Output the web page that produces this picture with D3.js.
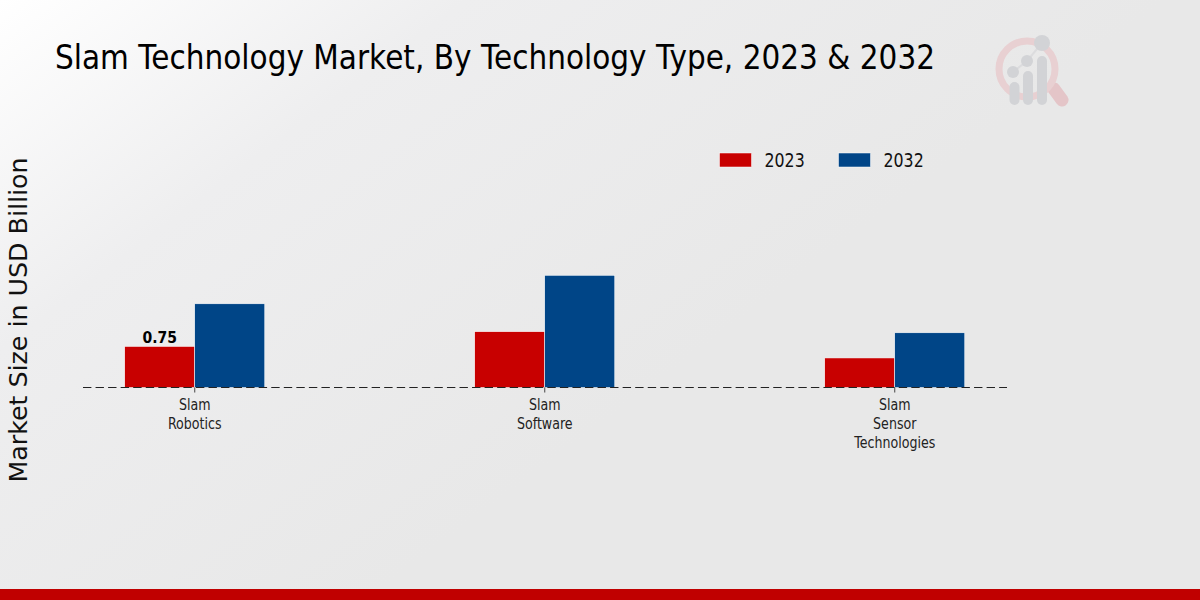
<!DOCTYPE html>
<html>
<head>
<meta charset="utf-8">
<script src="https://cdn.jsdelivr.net/npm/d3@7"></script>
<style>
  html, body { margin: 0; padding: 0; background: #fff; }
  text { font-family: "DejaVu Sans"; }
</style>
</head>
<body>
<div id="Area"></div>
<script>
const categories = ["Slam Robotics", "Slam Software", "Slam Sensor Technologies"];
const years = ["2023", "2032"];
const values2023 = [0.75, 1.02, 0.54];
const values2032 = [1.53, 2.05, 1.0];
const colors = ["#c80000", "#004587"];

const width = 1200, height = 600;
const sVg = d3.select("#Area").append("svg")
    .attr("width", width).attr("height", height)
    .style("display", "block");

// background gradient
const defs = sVg.append("defs");
const grad = defs.append("linearGradient").attr("id", "bg")
    .attr("gradientUnits", "userSpaceOnUse")
    .attr("x1", 0).attr("y1", 0).attr("x2", 420).attr("y2", 560);
grad.append("stop").attr("offset", "0%").attr("stop-color", "#ffffff");
grad.append("stop").attr("offset", "40%").attr("stop-color", "#eeeeef");
grad.append("stop").attr("offset", "100%").attr("stop-color", "#e8e8e8");
sVg.append("rect").attr("width", width).attr("height", height).attr("fill", "url(#bg)");

// bottom strip
sVg.append("rect").attr("x", 0).attr("y", 589).attr("width", width).attr("height", 11).attr("fill", "#c00000");

// watermark logo
const logo = sVg.append("g").attr("fill", "none");
logo.append("line").attr("x1", 1054).attr("y1", 89).attr("x2", 1062).attr("y2", 100)
    .attr("stroke", "#e4c5c8").attr("stroke-width", 13).attr("stroke-linecap", "round");
logo.append("circle").attr("cx", 1027).attr("cy", 69).attr("r", 28)
    .attr("stroke", "#e8d0d2").attr("stroke-width", 7);
logo.append("path").attr("d", "M1013,72L1027,61L1042,43").attr("stroke", "#dcdcde").attr("stroke-width", 2);
[[1013, 72, 6], [1027, 61, 6], [1042, 43, 8]].forEach(function (p) {
  logo.append("circle").attr("cx", p[0]).attr("cy", p[1]).attr("r", p[2]).attr("fill", "#d2d3d6");
});
[[1014.5, 82], [1028, 71], [1042, 56]].forEach(function (p) {
  logo.append("rect").attr("x", p[0] - 5).attr("y", p[1]).attr("width", 10).attr("height", 105 - p[1])
      .attr("rx", 5).attr("fill", "#d2d3d6");
});

// title
sVg.append("text").attr("x", 55).attr("y", 69)
    .attr("textLength", 880).attr("lengthAdjust", "spacingAndGlyphs")
    .style("font-size", "33px").attr("fill", "#000")
    .text("Slam Technology Market, By Technology Type, 2023 & 2032");

// scales
const baseY = 387.5;
const x = d3.scaleBand().domain(categories).range([19.75, 1069.75]);
const y = d3.scaleLinear().domain([0, 1]).range([baseY, baseY - 54.7]);
const barW = 70;

// bars
const series = [values2023, values2032];
series.forEach(function (vals, s) {
  sVg.append("g").selectAll("rect").data(vals).enter().append("rect")
      .attr("x", (d, i) => x(categories[i]) + x.bandwidth() / 2 + (s - 1) * barW)
      .attr("y", d => y(d))
      .attr("width", barW)
      .attr("height", d => baseY - y(d))
      .attr("fill", colors[s])
      .attr("stroke", "#ffffff").attr("stroke-width", 0.5);
});

// value label (squeezed, the reference text is narrow and tall)
sVg.append("text")
    .attr("transform", `translate(${x(categories[0]) + x.bandwidth() / 2 - barW / 2},${y(values2023[0]) - 3.5}) scale(0.875,1)`)
    .attr("text-anchor", "middle")
    .style("font-size", "16px").style("font-weight", "bold")
    .text(values2023[0]);

// axis
const axis = sVg.append("g").attr("transform", `translate(0, ${baseY})`)
    .call(d3.axisBottom(x).tickSize(5).tickSizeOuter(0));
axis.select(".domain").remove();
axis.selectAll(".tick line").attr("stroke", "#444");
axis.selectAll(".tick text").each(function (d) {
  const t = d3.select(this).text(null).attr("y", 0).attr("dy", null)
      .attr("transform", "scale(0.79,1)")
      .style("font-family", "'DejaVu Sans'").style("font-size", "16px").attr("fill", "#222");
  d.split(" ").forEach(function (w, i) {
    t.append("tspan").attr("x", 0).attr("y", 22.5 + i * 19).text(w);
  });
});
sVg.append("line").attr("x1", 83).attr("x2", 1007).attr("y1", baseY).attr("y2", baseY)
    .attr("stroke", "#222").attr("stroke-width", 1).attr("stroke-dasharray", "8.4,4.15");

// y label
sVg.append("text")
    .attr("transform", "translate(26.5,320) rotate(-90)")
    .attr("text-anchor", "middle")
    .style("font-size", "25.3px").attr("fill", "#111")
    .text("Market Size in USD Billion");

// legend
const legendX = [719.5, 838.5];
years.forEach(function (yr, i) {
  sVg.append("rect").attr("x", legendX[i]).attr("y", 153).attr("width", 32).attr("height", 14)
      .attr("fill", colors[i]).attr("stroke", "#fff").attr("stroke-width", 0.5);
  sVg.append("text").attr("transform", `translate(${legendX[i] + 45},167) scale(0.79,1)`)
      .style("font-size", "20px").attr("fill", "#111")
      .text(yr);
});
</script>
</body>
</html>
